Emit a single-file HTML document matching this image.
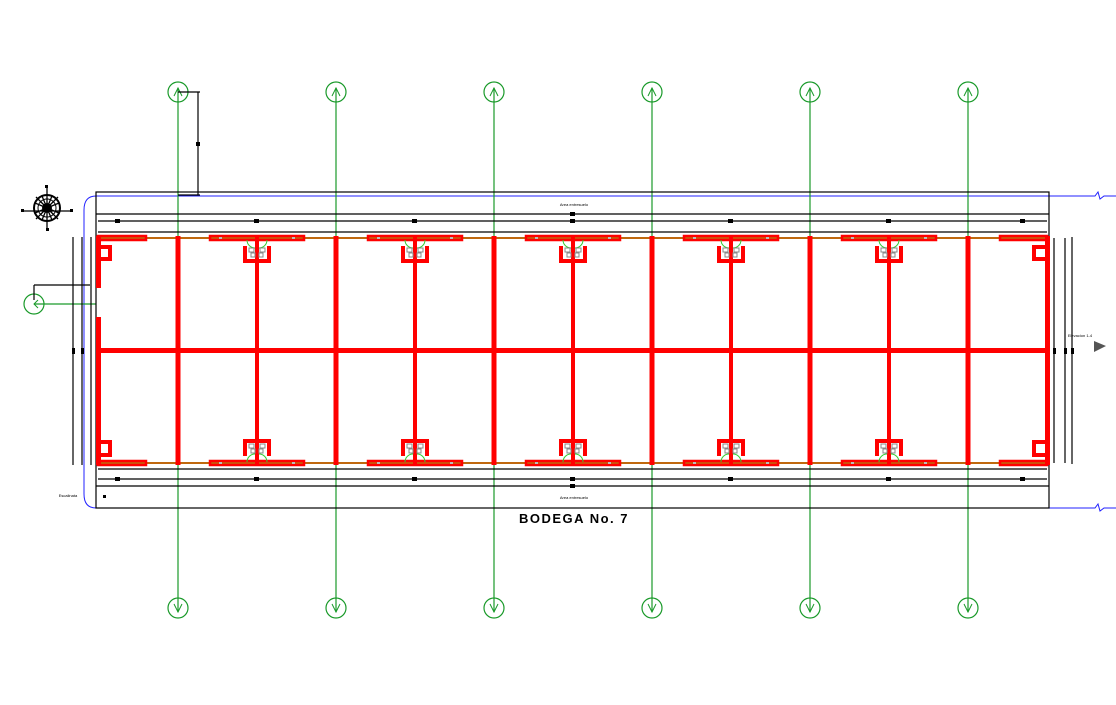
<!DOCTYPE html>
<html><head><meta charset="utf-8"><style>
html,body{margin:0;padding:0;background:#fff;width:1116px;height:705px;overflow:hidden}
svg{display:block}
</style></head><body>
<svg width="1116" height="705" viewBox="0 0 1116 705" xmlns="http://www.w3.org/2000/svg">
<defs>
  <g id="gtop">
    <circle cx="0" cy="92" r="10" fill="none" stroke="#1a9a2a" stroke-width="1.2"/>
    <path d="M-4,96 L0,88 L4,96" fill="none" stroke="#1a9a2a" stroke-width="1"/>
    <circle cx="0" cy="608" r="10" fill="none" stroke="#1a9a2a" stroke-width="1.2"/>
    <path d="M-4,604 L0,612 L4,604" fill="none" stroke="#1a9a2a" stroke-width="1"/>
    <line x1="0" y1="88" x2="0" y2="612" stroke="#1a9a2a" stroke-width="1.2"/>
  </g>
  <g id="winT">
    <rect x="-47" y="236" width="94" height="4" fill="none" stroke="#f00" stroke-width="2.5"/>
    <rect x="-38" y="237" width="3" height="2" fill="#bbb"/>
    <rect x="35" y="237" width="3" height="2" fill="#bbb"/>
  </g>
  <g id="doorT">
    <path d="M-12,246 V261 H12 V246" fill="none" stroke="#f00" stroke-width="4"/>
    <path d="M-10,240 A8,8 0 0 0 -2,248 M10,240 A8,8 0 0 1 2,248" fill="none" stroke="#3c3" stroke-width="1"/>
    <rect x="-8" y="248" width="5" height="4" fill="none" stroke="#888"/>
    <rect x="3" y="248" width="5" height="4" fill="none" stroke="#888"/>
    <rect x="-6" y="253" width="4" height="4" fill="none" stroke="#888"/>
    <rect x="2" y="253" width="4" height="4" fill="none" stroke="#888"/>
  </g>
  <g id="doorB">
    <path d="M-12,456 V441 H12 V456" fill="none" stroke="#f00" stroke-width="4"/>
    <path d="M-10,462 A8,8 0 0 1 -2,454 M10,462 A8,8 0 0 0 2,454" fill="none" stroke="#3c3" stroke-width="1"/>
    <rect x="-8" y="444" width="5" height="4" fill="none" stroke="#888"/>
    <rect x="3" y="444" width="5" height="4" fill="none" stroke="#888"/>
    <rect x="-6" y="449" width="4" height="4" fill="none" stroke="#888"/>
    <rect x="2" y="449" width="4" height="4" fill="none" stroke="#888"/>
  </g>
</defs>

<!-- blue lines -->
<path d="M1116,196 H1104 L1100,199 L1098,192 L1095,196 H96 Q84,196 84,210 V494 Q84,508 96,508 H1095 L1098,504 L1100,511 L1104,508 H1116" fill="none" stroke="#22f" stroke-width="1"/>

<!-- green grid (under red) -->
<use href="#gtop" x="178"/><use href="#gtop" x="336"/><use href="#gtop" x="494"/><use href="#gtop" x="652"/><use href="#gtop" x="810"/><use href="#gtop" x="968"/>
<circle cx="34" cy="304" r="10" fill="none" stroke="#1a9a2a" stroke-width="1.2"/>
<path d="M38,300 L34,304 L38,308" fill="none" stroke="#1a9a2a" stroke-width="1"/>
<line x1="34" y1="304" x2="96" y2="304" stroke="#1a9a2a" stroke-width="1.2"/>

<!-- outer rect and dim lines -->
<g stroke="#000" stroke-width="1.2" fill="none">
  <rect x="96" y="192" width="953" height="316"/>
  <line x1="96" y1="214" x2="1049" y2="214"/>
  <line x1="98" y1="221" x2="1047" y2="221"/>
  <line x1="98" y1="232" x2="1047" y2="232"/>
  <line x1="98" y1="469" x2="1047" y2="469"/>
  <line x1="98" y1="479" x2="1047" y2="479"/>
  <line x1="96" y1="486" x2="1049" y2="486"/>
  <line x1="73" y1="237" x2="73" y2="465"/>
  <line x1="82" y1="237" x2="82" y2="465"/>
  <line x1="91" y1="237" x2="91" y2="465"/>
  <line x1="1054" y1="238" x2="1054" y2="463"/>
  <line x1="1065" y1="238" x2="1065" y2="463"/>
  <line x1="1072" y1="237" x2="1072" y2="464"/>
  <line x1="198" y1="92" x2="198" y2="195"/>
  <line x1="178" y1="92" x2="200" y2="92"/>
  <line x1="178" y1="195" x2="200" y2="195"/>
  <path d="M34,285 V300 M34,285 H90"/>
</g>
<g fill="#000">
  <rect x="196" y="142" width="4" height="4"/>
  <rect x="115" y="219" width="5" height="4"/><rect x="254" y="219" width="5" height="4"/><rect x="412" y="219" width="5" height="4"/><rect x="570" y="219" width="5" height="4"/><rect x="728" y="219" width="5" height="4"/><rect x="886" y="219" width="5" height="4"/><rect x="1020" y="219" width="5" height="4"/>
  <rect x="115" y="477" width="5" height="4"/><rect x="254" y="477" width="5" height="4"/><rect x="412" y="477" width="5" height="4"/><rect x="570" y="477" width="5" height="4"/><rect x="728" y="477" width="5" height="4"/><rect x="886" y="477" width="5" height="4"/><rect x="1020" y="477" width="5" height="4"/>
  <rect x="570" y="212" width="5" height="4"/><rect x="570" y="484" width="5" height="4"/>
  <rect x="72" y="348" width="3" height="6"/><rect x="81" y="348" width="3" height="6"/><rect x="1053" y="348" width="3" height="6"/><rect x="1064" y="348" width="3" height="6"/><rect x="1071" y="348" width="3" height="6"/>
  <rect x="103" y="495" width="3" height="3"/>
</g>
<text x="574" y="206" font-family="Liberation Sans, sans-serif" font-size="4" text-anchor="middle">Area entresuelo</text>
<text x="574" y="499" font-family="Liberation Sans, sans-serif" font-size="4" text-anchor="middle">Area entresuelo</text>
<text x="1080" y="337" font-family="Liberation Sans, sans-serif" font-size="4" text-anchor="middle">Elevacion 1-4</text>
<text x="68" y="497" font-family="Liberation Sans, sans-serif" font-size="4" text-anchor="middle">Escalinata</text>
<path d="M1094,341 L1106,346 L1094,352 Z" fill="#555"/>

<!-- compass -->
<g transform="translate(47,208)">
  <circle r="13" fill="none" stroke="#000" stroke-width="2"/>
  <circle r="9" fill="none" stroke="#000" stroke-width="1"/>
  <circle r="5" fill="#000"/>
  <path d="M0,-22 V22 M-24,3 H24 M-11,-11 L11,11 M11,-11 L-11,11 M-5,-12 L5,12 M5,-12 L-5,12 M-12,-5 L12,5 M-12,5 L12,-5" stroke="#000" stroke-width="1.3"/>
  <rect x="-2" y="-23" width="3" height="3"/><rect x="-26" y="1" width="3" height="3"/><rect x="23" y="1" width="3" height="3"/><rect x="-1" y="20" width="3" height="3"/>
</g>

<!-- orange beams -->
<line x1="98" y1="238" x2="1047" y2="238" stroke="#c0680e" stroke-width="2"/>
<line x1="98" y1="463" x2="1047" y2="463" stroke="#c0680e" stroke-width="2"/>

<!-- red structure -->
<g fill="#f00">
  <rect x="96" y="236" width="5" height="52"/>
  <rect x="96" y="317" width="5" height="148"/>
  <rect x="1045" y="236" width="5" height="229"/>
  <rect x="96" y="348" width="953" height="5"/>
  <rect x="175.5" y="236" width="5" height="229"/>
  <rect x="333.5" y="236" width="5" height="229"/>
  <rect x="491.5" y="236" width="5" height="229"/>
  <rect x="649.5" y="236" width="5" height="229"/>
  <rect x="807.5" y="236" width="5" height="229"/>
  <rect x="965.5" y="236" width="5" height="229"/>
  <rect x="255" y="236" width="4" height="229"/>
  <rect x="413" y="236" width="4" height="229"/>
  <rect x="571" y="236" width="4" height="229"/>
  <rect x="729" y="236" width="4" height="229"/>
  <rect x="887" y="236" width="4" height="229"/>
</g>
<g>
  <use href="#winT" x="257"/><use href="#winT" x="415"/><use href="#winT" x="573"/><use href="#winT" x="731"/><use href="#winT" x="889"/>
  <use href="#winT" x="257" y="225"/><use href="#winT" x="415" y="225"/><use href="#winT" x="573" y="225"/><use href="#winT" x="731" y="225"/><use href="#winT" x="889" y="225"/>
  <rect x="98" y="236" width="48" height="4" fill="none" stroke="#f00" stroke-width="2.5"/>
  <rect x="1000" y="236" width="47" height="4" fill="none" stroke="#f00" stroke-width="2.5"/>
  <rect x="98" y="461" width="48" height="4" fill="none" stroke="#f00" stroke-width="2.5"/>
  <rect x="1000" y="461" width="47" height="4" fill="none" stroke="#f00" stroke-width="2.5"/>
  <use href="#doorT" x="257"/><use href="#doorT" x="415"/><use href="#doorT" x="573"/><use href="#doorT" x="731"/><use href="#doorT" x="889"/>
  <use href="#doorB" x="257"/><use href="#doorB" x="415"/><use href="#doorB" x="573"/><use href="#doorB" x="731"/><use href="#doorB" x="889"/>
  <path d="M99,247 H110 V259 H99" fill="none" stroke="#f00" stroke-width="4"/>
  <path d="M99,442 H110 V455 H99" fill="none" stroke="#f00" stroke-width="4"/>
  <path d="M1045,247 H1034 V259 H1045" fill="none" stroke="#f00" stroke-width="4"/>
  <path d="M1045,442 H1034 V455 H1045" fill="none" stroke="#f00" stroke-width="4"/>
</g>

<text x="574" y="523" font-family="Liberation Sans, sans-serif" font-size="13" font-weight="bold" letter-spacing="1.5" text-anchor="middle">BODEGA No. 7</text>
</svg>
</body></html>
